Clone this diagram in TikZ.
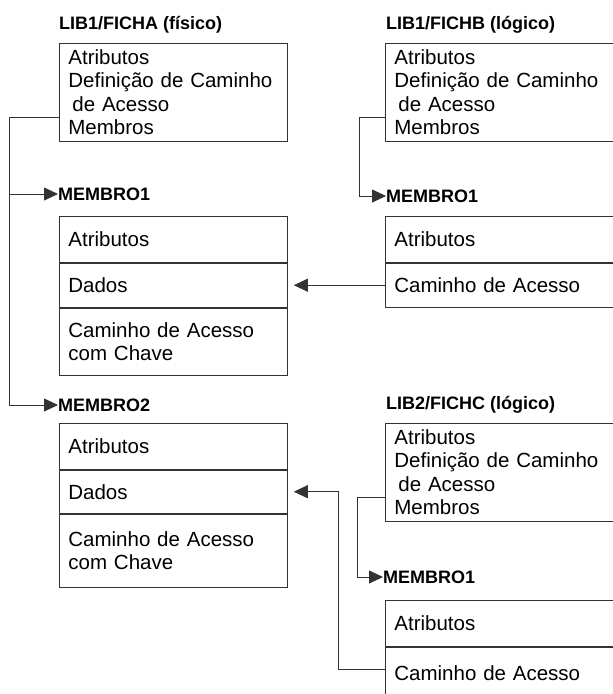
\documentclass[tikz,border=0pt]{standalone}
\usepackage{fontspec}
\setmainfont{Liberation Sans}
\usetikzlibrary{positioning,arrows.meta}

\begin{document}
\begin{tikzpicture}[x=1pt,y=-1pt]
  \tikzset{ fich/.style={draw=black!80,line width=0.8pt,anchor=north west,inner xsep=9pt,inner ysep=0pt,
      text width=210pt,minimum height=98pt,align=left,font=\fontsize{20.5}{23.5}\selectfont},
    row/.style={fich,minimum height=#1},
    ttl/.style={anchor=base west,inner sep=0pt,font=\bfseries\fontsize{18}{20}\selectfont},
    mem/.style={anchor=west,inner sep=0pt,font=\bfseries\fontsize{18}{20}\selectfont},
    arr/.style={draw=black!80,line width=0.8pt,-{Triangle[length=14pt,width=13pt]}},
  }
  \useasboundingbox (0,0) rectangle (613,694);
  \clip (0,0) rectangle (613,694);

  % LIB1/FICHA
  \node[ttl] (tA) at (59,29.5) {LIB1/FICHA (físico)};
  \node[fich] (A) at (59,43) {Atributos\\Definição de Caminho\\\hspace*{4pt}de Acesso\\Membros};
  \node[mem] (A1) at (58,194) {MEMBRO1};
  \node[row=46pt] (A1a) at (59,216) {Atributos};
  \node[row=44pt,below=0pt of A1a] (A1d) {Dados};
  \node[row=67pt,below=0pt of A1d] (A1c) {Caminho de Acesso\\com Chave};
  \node[mem] (A2) at (58,405) {MEMBRO2};
  \node[row=46pt] (A2a) at (59,423) {Atributos};
  \node[row=43pt,below=0pt of A2a] (A2d) {Dados};
  \node[row=73pt,below=0pt of A2d] (A2c) {Caminho de Acesso\\com Chave};

  % LIB1/FICHB
  \node[ttl] (tB) at (386,29.5) {LIB1/FICHB (lógico)};
  \node[fich] (B) at (385,43) {Atributos\\Definição de Caminho\\\hspace*{4pt}de Acesso\\Membros};
  \node[mem] (B1) at (386,196) {MEMBRO1};
  \node[row=46pt] (B1a) at (385,216) {Atributos};
  \node[row=44pt,below=0pt of B1a] (B1c) {Caminho de Acesso};

  % LIB2/FICHC
  \node[ttl] (tC) at (386,409.5) {LIB2/FICHC (lógico)};
  \node[fich] (C) at (385,423) {Atributos\\Definição de Caminho\\\hspace*{4pt}de Acesso\\Membros};
  \node[mem] (C1) at (383,577) {MEMBRO1};
  \node[row=46pt] (C1a) at (385,600) {Atributos};
  \node[row=52pt,below=0pt of C1a] (C1c) {Caminho de Acesso};

  \coordinate (Am) at ([yshift=-25pt]A.west);
  \coordinate (Bm) at ([yshift=-25pt]B.west);
  \coordinate (Cm) at ([yshift=-25pt]C.west);

  \draw[arr] (Am) -- ++(-50,0) |- (A1.west);
  \draw[arr] (Am) -- ++(-50,0) |- (A2.west);
  \draw[arr] (Bm) -- ++(-26,0) |- (B1.west);
  \draw[arr] (Cm) -- ++(-28,0) |- (C1.west);
  \draw[arr,shorten >=6pt] (B1c.west) -- (A1d.east);
  \draw[arr,shorten >=6pt] ([yshift=4pt]C1c.west) -- ++(-47,0) |- (A2d.east);
\end{tikzpicture}
\end{document}
